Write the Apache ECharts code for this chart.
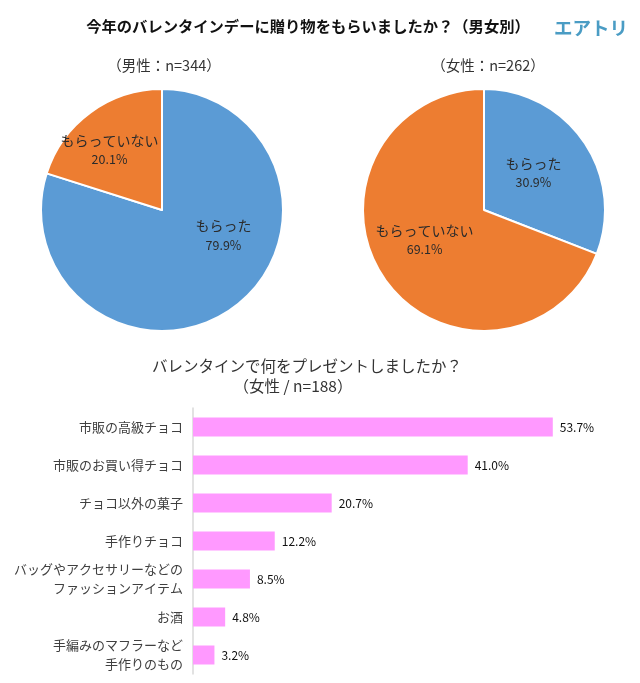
<!DOCTYPE html>
<html>
<head>
<meta charset="utf-8">
<style>
  html, body { margin: 0; padding: 0; background: #fff; }
  #main { width: 640px; height: 683px; }
</style>
<script src="https://cdn.jsdelivr.net/npm/echarts@6/dist/echarts.min.js"></script>
</head>
<body>
<div id="main"></div>
<script>
var pieNames = ['もらった', 'もらっていない'];
var maleValues = [79.9, 20.1];
var femaleValues = [30.9, 69.1];
var giftCategories = [
  '市販の高級チョコ',
  '市販のお買い得チョコ',
  'チョコ以外の菓子',
  '手作りチョコ',
  'バッグやアクセサリーなどの\nファッションアイテム',
  'お酒',
  '手編みのマフラーなど\n手作りのもの'
];
var giftValues = [53.7, 41.0, 20.7, 12.2, 8.5, 4.8, 3.2];

var FONT = '"Noto Sans CJK JP", sans-serif';

function makeText(text, x, y, size, color, weight, align) {
  return {
    type: 'text',
    x: x,
    y: y,
    style: {
      text: text,
      fontFamily: FONT,
      fontSize: size,
      fontWeight: weight || 'normal',
      fill: color,
      textAlign: align || 'center',
      textVerticalAlign: 'middle'
    }
  };
}

function makePie(center, values, moves) {
  return {
    type: 'pie',
    radius: [0, 121],
    center: center,
    startAngle: 90,
    clockwise: true,
    silent: true,
    animation: false,
    itemStyle: { borderColor: '#fff', borderWidth: 2 },
    label: {
      position: 'inside',
      fontFamily: FONT,
      color: '#2b2b2b',
      formatter: function (p) {
        return '{n|' + p.name + '}\n{v|' + p.value.toFixed(1) + '%}';
      },
      rich: {
        n: { fontFamily: FONT, fontSize: 14, lineHeight: 19, color: '#2b2b2b' },
        v: { fontFamily: FONT, fontSize: 12.5, lineHeight: 19, color: '#2b2b2b' }
      }
    },
    labelLayout: function (p) {
      return { dx: moves[p.dataIndex][0], dy: moves[p.dataIndex][1] };
    },
    labelLine: { show: false },
    data: pieNames.map(function (name, i) {
      return {
        name: name,
        value: values[i],
        itemStyle: { color: i === 0 ? '#5b9bd5' : '#ed7d31' }
      };
    })
  };
}

var myChart = echarts.init(document.getElementById('main'), null, { renderer: 'canvas' });
myChart.setOption({
  animation: false,
  backgroundColor: '#fff',
  grid: { left: 193, top: 408, width: 402, height: 266 },
  xAxis: { type: 'value', min: 0, max: 60, show: false },
  yAxis: {
    type: 'category',
    inverse: true,
    data: giftCategories,
    axisLine: { show: true, lineStyle: { color: '#d9d9d9', width: 1.5 } },
    axisTick: { show: false },
    axisLabel: {
      margin: 10,
      fontFamily: FONT,
      fontSize: 13,
      lineHeight: 19,
      color: '#404040',
      align: 'right'
    }
  },
  series: [
    makePie([162, 210], maleValues, [[24, -26], [-15, -9]]),
    makePie([484, 210], femaleValues, [[-3, -1], [-7, -6]]),
    {
      type: 'bar',
      data: giftValues,
      barWidth: 19,
      silent: true,
      itemStyle: { color: '#ff99ff' },
      label: {
        show: true,
        position: 'right',
        distance: 7,
        fontFamily: FONT,
        fontSize: 12,
        color: '#111',
        formatter: function (p) { return p.value.toFixed(1) + '%'; }
      }
    }
  ],
  graphic: [
    makeText('今年のバレンタインデーに贈り物をもらいましたか？（男女別）', 308, 26, 15.3, '#111', 'bold'),
    makeText('エアトリ', 591, 28, 18.5, '#4a9cc4', 'bold'),
    makeText('（男性：n=344）', 164, 65, 14.5, '#333'),
    makeText('（女性：n=262）', 488, 65, 14.5, '#333'),
    makeText('バレンタインで何をプレゼントしましたか？', 307, 366, 15.5, '#333'),
    makeText('（女性 / n=188）', 293, 386, 15.5, '#333')
  ]
});
</script>
</body>
</html>
